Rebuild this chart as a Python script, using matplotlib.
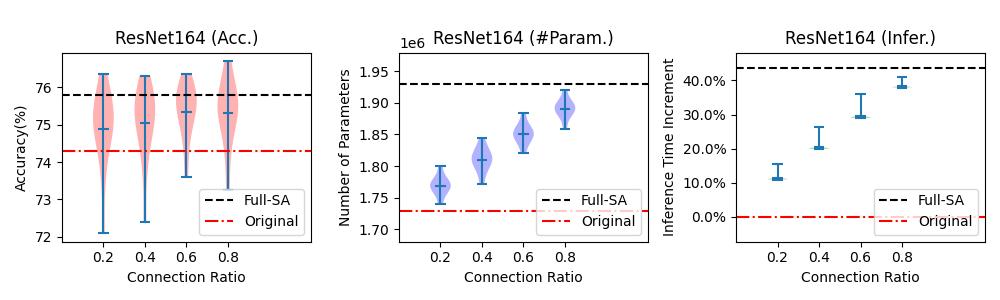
import matplotlib
matplotlib.use("Agg")
import matplotlib.pyplot as plt
from matplotlib.ticker import PercentFormatter

# Connection ratios on the x axis
ratios = ["0.2", "0.4", "0.6", "0.8"]

# Accuracy (%) samples per connection ratio
acc_02 = [72.1, 73.6, 74.3, 74.7, 74.9, 75.0, 75.1, 75.2, 75.3, 75.4, 75.6, 75.9, 76.35]
acc_04 = [72.4, 73.8, 74.4, 74.8, 75.0, 75.2, 75.3, 75.4, 75.5, 75.6, 75.8, 76.0, 76.3]
acc_06 = [73.6, 74.4, 74.9, 75.1, 75.3, 75.5, 75.6, 75.7, 75.8, 75.9, 76.0, 76.35]
acc_08 = [73.25, 74.2, 74.8, 75.1, 75.3, 75.4, 75.5, 75.6, 75.7, 75.9, 76.2, 76.7]
acc_full_sa = 75.8
acc_original = 74.3

# Number of parameters samples
par_02 = [1740000, 1755000, 1762000, 1766000, 1768000, 1770000, 1772000, 1776000, 1782000, 1800000]
par_04 = [1772000, 1792000, 1800000, 1806000, 1810000, 1813000, 1816000, 1821000, 1828000, 1844000]
par_06 = [1820000, 1836000, 1842000, 1847000, 1850000, 1852000, 1855000, 1859000, 1865000, 1884000]
par_08 = [1858000, 1878000, 1884000, 1888000, 1891000, 1893000, 1895000, 1898000, 1903000, 1921000]
par_full_sa = 1930000
par_original = 1728000

# Inference time increment samples (fraction)
inf_02 = [0.109, 0.1095, 0.110, 0.110, 0.1105, 0.1105, 0.111, 0.111, 0.1115, 0.112, 0.112, 0.113, 0.156]
inf_04 = [0.199, 0.1995, 0.200, 0.200, 0.2005, 0.2005, 0.201, 0.201, 0.2015, 0.202, 0.202, 0.203, 0.263]
inf_06 = [0.290, 0.2905, 0.291, 0.291, 0.2915, 0.2915, 0.292, 0.292, 0.2925, 0.293, 0.293, 0.294, 0.360]
inf_08 = [0.379, 0.3795, 0.380, 0.380, 0.3805, 0.3805, 0.381, 0.381, 0.3815, 0.382, 0.382, 0.383, 0.410]
inf_full_sa = 0.437
inf_original = 0.0

positions = [1, 2, 3, 4]

fig, axes = plt.subplots(1, 3, figsize=(10, 3))

panels = [
    (axes[0], [acc_02, acc_04, acc_06, acc_08], "red", acc_full_sa, acc_original,
     "ResNet164 (Acc.)", "Accuracy(%)", None),
    (axes[1], [par_02, par_04, par_06, par_08], "blue", par_full_sa, par_original,
     "ResNet164 (#Param.)", "Number of Parameters", None),
    (axes[2], [inf_02, inf_04, inf_06, inf_08], "green", inf_full_sa, inf_original,
     "ResNet164 (Infer.)", "Inference Time Increment", 0.1),
]

for ax, data, color, full, orig, title, ylabel, bw in panels:
    parts = ax.violinplot(data, positions=positions, showmeans=True, bw_method=bw)
    for pc in parts["bodies"]:
        pc.set_facecolor(color)
        pc.set_edgecolor("none")
        pc.set_alpha(0.3)
    ax.axhline(full, color="black", linestyle="--", label="Full-SA")
    ax.axhline(orig, color="red", linestyle="-.", label="Original")
    ax.set_xticks(positions)
    ax.set_xticklabels(ratios)
    ax.set_xlim(0, 6)
    ax.set_xlabel("Connection Ratio")
    ax.set_ylabel(ylabel)
    ax.set_title(title)
    ax.legend(loc="lower right")

axes[1].set_ylim(1680000, 1980000)
axes[2].set_ylim(-0.073, 0.482)
axes[2].yaxis.set_major_formatter(PercentFormatter(xmax=1, decimals=1))

plt.tight_layout()
plt.savefig("out.png", dpi=100)
